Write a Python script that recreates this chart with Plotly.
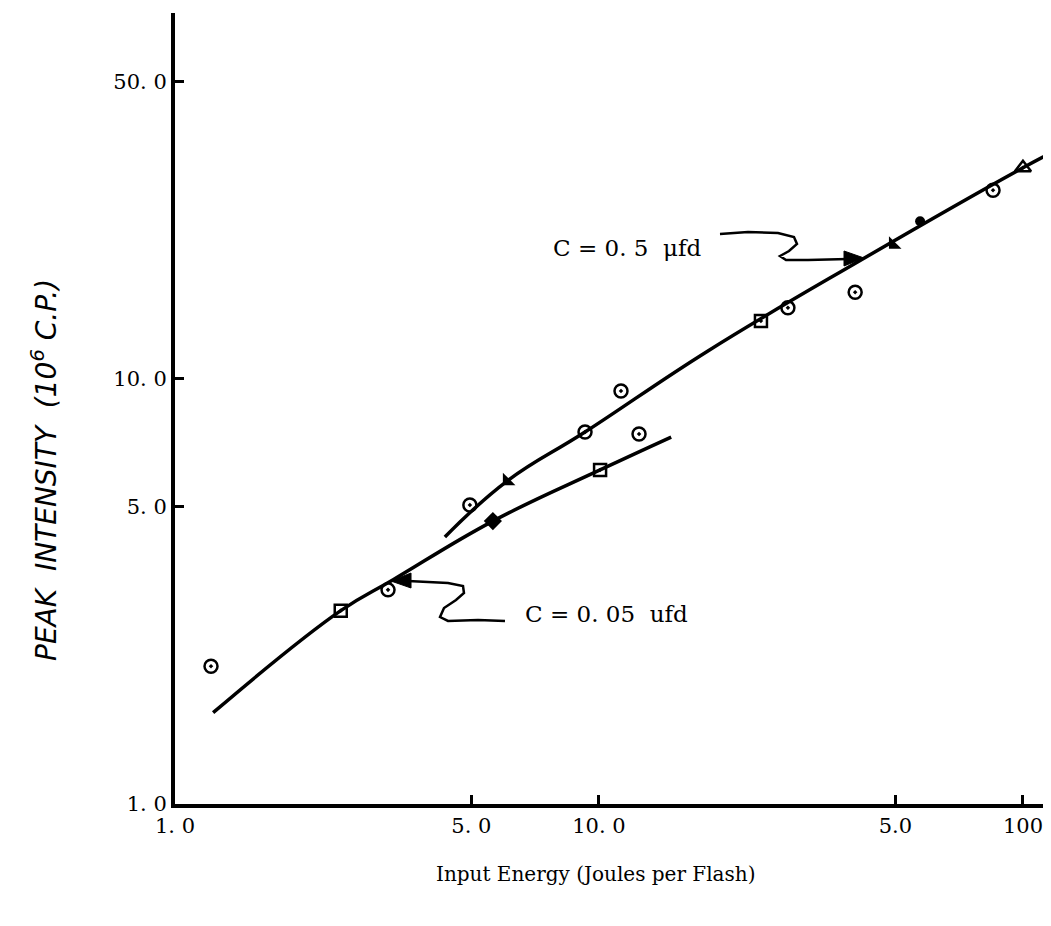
import plotly.graph_objects as go

# fitted curves
c005_x = [1.23, 2.46, 3.27, 5.62, 10.06, 14.8]
c005_y = [1.64, 2.85, 3.37, 4.63, 6.11, 7.30]
c05_x = [4.33, 6.07, 9.27, 18.07, 41.5, 100, 121.6]
c05_y = [4.25, 5.75, 7.50, 11.64, 19.05, 31.4, 34.8]

# measured points, grouped by symbol
circ_x = [1.216, 3.18, 4.96, 9.27, 11.27, 12.43, 27.9, 40.2, 85.0]
circ_y = [2.11, 3.19, 5.05, 7.50, 9.37, 7.42, 14.7, 16.0, 27.8]
sq_x = [2.46, 10.06, 24.1]
sq_y = [2.85, 6.11, 13.69]
dia_x = [5.62]
dia_y = [4.63]
tri_x = [6.07, 49.4]
tri_y = [5.75, 20.7]
tri_open_x = [100]
tri_open_y = [31.4]
dot_x = [57.2]
dot_y = [23.5]

x_ticks = [1, 5, 10, 50, 100]
x_labels = ["1. 0", "5. 0", "10. 0", "5.0", "100"]
y_ticks = [1, 5, 10, 50]
y_labels = ["1. 0", "5. 0", "10. 0", "50. 0"]

W, H = 1051, 926
L, R, T, B = 167, 0, 5, 130
FONT = "DejaVu Serif"


def px(x, y):
    # pixel -> paper coords, only used for the hand-drawn pointers and labels
    return (x - L) / (W - L - R), (H - B - y) / (H - B - T)


def path(pts, close=False):
    s = ""
    for i, (x, y) in enumerate(pts):
        u, v = px(x, y)
        s += ("M" if i == 0 else "L") + f"{u:.4f},{v:.4f} "
    return s + ("Z" if close else "")


fig = go.Figure()
line = dict(color="black", width=3.5, shape="spline", smoothing=1.2)
fig.add_trace(go.Scatter(x=c005_x, y=c005_y, mode="lines", line=line))
fig.add_trace(go.Scatter(x=c05_x, y=c05_y, mode="lines", line=line))

fig.add_trace(go.Scatter(x=circ_x, y=circ_y, mode="markers",
                         marker=dict(symbol="circle-open-dot", size=13, color="black",
                                     line=dict(width=2.5, color="black"))))
fig.add_trace(go.Scatter(x=sq_x, y=sq_y, mode="markers",
                         marker=dict(symbol="square-open-dot", size=12, color="black",
                                     line=dict(width=2.5, color="black"))))
fig.add_trace(go.Scatter(x=dia_x, y=dia_y, mode="markers",
                         marker=dict(symbol="diamond", size=14, color="black")))
fig.add_trace(go.Scatter(x=tri_x, y=tri_y, mode="markers",
                         marker=dict(symbol="triangle-sw", size=14, color="black")))
fig.add_trace(go.Scatter(x=tri_open_x, y=tri_open_y, mode="markers",
                         marker=dict(symbol="triangle-up-open-dot", size=14, color="black",
                                     line=dict(width=2.5, color="black"))))
fig.add_trace(go.Scatter(x=dot_x, y=dot_y, mode="markers",
                         marker=dict(symbol="circle", size=10, color="black")))

# pointer squiggles with arrowheads
sq1 = [(712, 226), (740, 224), (770, 225), (786, 229), (789, 236), (781, 243),
       (772, 248), (778, 252), (800, 252), (840, 251)]
sq2 = [(497, 613), (470, 612), (440, 613), (432, 609), (436, 600), (448, 592),
       (456, 585), (455, 578), (440, 575), (420, 574), (400, 573)]
for s in (sq1, sq2):
    fig.add_shape(type="path", path=path(s), xref="paper", yref="paper",
                  line=dict(color="black", width=2.5))
for head in ([(856, 250), (836, 243), (836, 258)], [(383, 573), (403, 565), (403, 580)]):
    fig.add_shape(type="path", path=path(head, close=True), xref="paper", yref="paper",
                  line=dict(color="black", width=1), fillcolor="black")

txt = dict(family=FONT, size=23, color="black")
u, v = px(619, 225)
fig.add_annotation(x=u, y=v, xref="paper", yref="paper", text="C = 0. 5  \u03bcfd",
                   showarrow=False, font=txt)
u, v = px(598, 621)
fig.add_annotation(x=u, y=v, xref="paper", yref="paper", text="C = 0. 05  ufd",
                   showarrow=False, font=txt)

u, v = px(588, 880)
fig.add_annotation(x=u, y=v, xref="paper", yref="paper",
                   text="Input Energy (Joules per Flash)", showarrow=False,
                   font=dict(family=FONT, size=20, color="black"))

u, v = px(36, 462)
fig.add_annotation(x=u, y=v, xref="paper", yref="paper", textangle=-90,
                   xanchor="center", yanchor="middle",
                   text="<i>PEAK  INTENSITY  (10<sup>6</sup> C.P.)</i>", showarrow=False,
                   font=dict(family="DejaVu Sans", size=28, color="black"))

fig.update_layout(
    width=W, height=H,
    margin=dict(l=L, r=R, t=T, b=B),
    paper_bgcolor="white", plot_bgcolor="white",
    showlegend=False,
    font=dict(family=FONT, size=21, color="black"),
    xaxis=dict(type="log", range=[0, 2.085], tickvals=x_ticks, ticktext=x_labels,
               ticks="inside", ticklen=9, tickwidth=3, tickcolor="black",
               showline=True, linecolor="black", linewidth=4, showgrid=False,
               zeroline=False),
    yaxis=dict(type="log", range=[0, 1.861], tickvals=y_ticks, ticktext=y_labels,
               ticks="inside", ticklen=9, tickwidth=3, tickcolor="black",
               showline=True, linecolor="black", linewidth=4, showgrid=False,
               zeroline=False),
)

fig.write_html("out.html")
